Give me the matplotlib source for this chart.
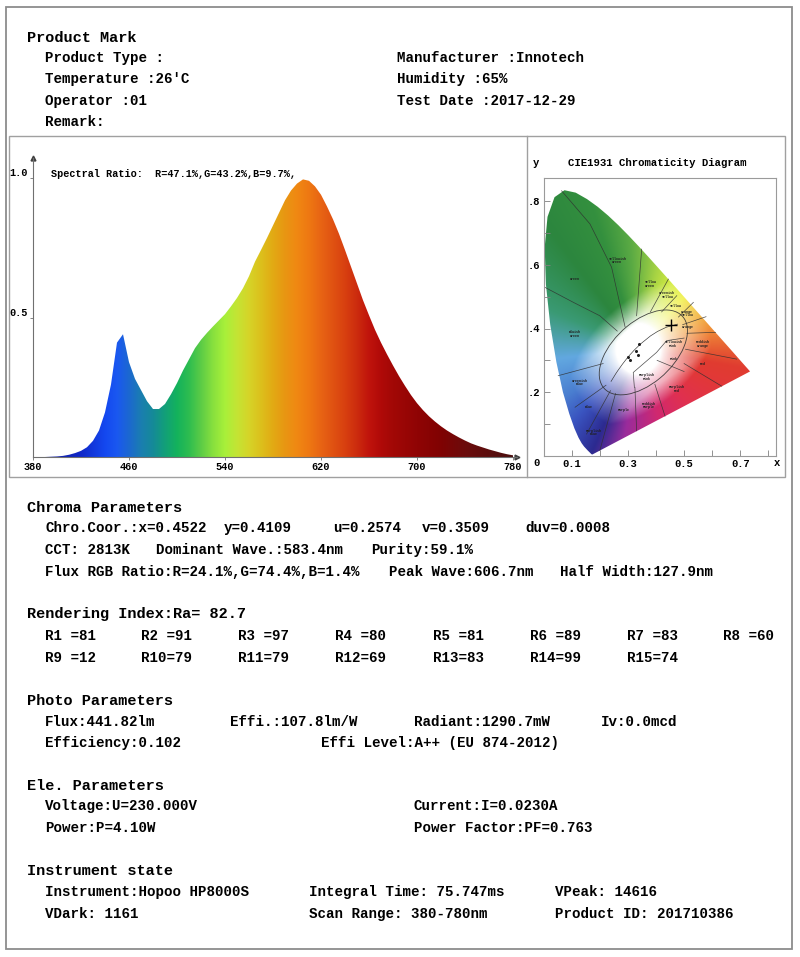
import numpy as np
import matplotlib
matplotlib.use("Agg")
import matplotlib.pyplot as plt
from matplotlib.colors import to_rgb
from matplotlib.patches import Polygon, Rectangle, Ellipse

plt.rcParams['font.family'] = ['Liberation Mono', 'DejaVu Sans Mono']
plt.rcParams['font.weight'] = 'bold'

W, H = 800, 957

# ---------------- spectrum data ----------------
wavelength = np.arange(380, 781, 5)
intensity = np.array([
    0.000, 0.000, 0.000, 0.001, 0.002, 0.004, 0.008, 0.014, 0.022, 0.035,
    0.058, 0.095, 0.160, 0.260, 0.410, 0.440, 0.340, 0.280, 0.240, 0.200,
    0.172, 0.172, 0.190, 0.225, 0.265, 0.310, 0.350, 0.390, 0.420, 0.445,
    0.468, 0.490, 0.512, 0.540, 0.570, 0.605, 0.648, 0.700, 0.742, 0.785,
    0.830, 0.875, 0.920, 0.955, 0.980, 0.995, 0.990, 0.970, 0.940, 0.898,
    0.852, 0.800, 0.742, 0.682, 0.622, 0.562, 0.508, 0.456, 0.410, 0.368,
    0.328, 0.290, 0.255, 0.222, 0.193, 0.168, 0.146, 0.127, 0.110, 0.095,
    0.082, 0.070, 0.059, 0.049, 0.041, 0.034, 0.027, 0.021, 0.015, 0.010,
    0.006])
spec_xticks = [380, 460, 540, 620, 700, 780]
spec_yticks = [0.5, 1.0]
spectral_ratio = "Spectral Ratio:  R=47.1%,G=43.2%,B=9.7%,"

# ---------------- CIE 1931 data ----------------
locus_x = [0.1741, 0.1733, 0.1714, 0.1689, 0.1644, 0.1566, 0.1440, 0.1355,
           0.1241, 0.1096, 0.0913, 0.0687, 0.0454, 0.0235, 0.0082, 0.0039,
           0.0139, 0.0389, 0.0743, 0.1142, 0.1547, 0.1929, 0.2296, 0.2658,
           0.3016, 0.3373, 0.3731, 0.4087, 0.4441, 0.4788, 0.5125, 0.5448,
           0.5752, 0.6029, 0.6270, 0.6658, 0.6915, 0.7079, 0.7190, 0.7260,
           0.7300, 0.7334, 0.7347]
locus_y = [0.0050, 0.0048, 0.0051, 0.0069, 0.0109, 0.0177, 0.0297, 0.0399,
           0.0578, 0.0868, 0.1327, 0.2007, 0.2950, 0.4127, 0.5384, 0.6548,
           0.7502, 0.8120, 0.8338, 0.8262, 0.8059, 0.7816, 0.7543, 0.7243,
           0.6923, 0.6589, 0.6245, 0.5896, 0.5547, 0.5202, 0.4866, 0.4544,
           0.4242, 0.3965, 0.3725, 0.3340, 0.3083, 0.2920, 0.2809, 0.2740,
           0.2700, 0.2666, 0.2653]
planck_x = [0.4770, 0.4369, 0.4053, 0.3805, 0.3451, 0.3221, 0.3064, 0.2952,
            0.2807, 0.2637, 0.2565, 0.2400]
planck_y = [0.4137, 0.4041, 0.3907, 0.3768, 0.3516, 0.3318, 0.3166, 0.3048,
            0.2883, 0.2673, 0.2577, 0.2340]
sample_x = [0.300, 0.309, 0.330, 0.337, 0.340]
sample_y = [0.310, 0.300, 0.330, 0.318, 0.350]
measured_x, measured_y = 0.4522, 0.4109
cie_xticks = [0.1, 0.3, 0.5, 0.7]
cie_yticks = [0.2, 0.4, 0.6, 0.8]

region_lines = [
    [(0.064, 0.832), (0.165, 0.728), (0.242, 0.592), (0.290, 0.405)],
    [(0.005, 0.529), (0.106, 0.482), (0.200, 0.440), (0.262, 0.392)],
    [(0.052, 0.252), (0.212, 0.290)],
    [(0.112, 0.153), (0.222, 0.222)],
    [(0.153, 0.069), (0.238, 0.205)],
    [(0.200, 0.017), (0.256, 0.196)],
    [(0.331, 0.079), (0.325, 0.215)],
    [(0.432, 0.125), (0.396, 0.225)],
    [(0.634, 0.219), (0.500, 0.290)],
    [(0.687, 0.304), (0.505, 0.335)],
    [(0.612, 0.388), (0.510, 0.385)],
    [(0.578, 0.437), (0.495, 0.412)],
    [(0.533, 0.482), (0.480, 0.436)],
    [(0.474, 0.503), (0.420, 0.452)],
    [(0.444, 0.555), (0.380, 0.452)],
    [(0.349, 0.649), (0.331, 0.440)],
    [(0.500, 0.370), (0.438, 0.362), (0.402, 0.325), (0.319, 0.262), (0.323, 0.215)],
    [(0.404, 0.300), (0.500, 0.265)],
]
region_labels = [
    ("Yellowish\nGreen", 0.260, 0.613), ("Green", 0.112, 0.555),
    ("Yellow\nGreen", 0.379, 0.540), ("Greenish\nYellow", 0.438, 0.506),
    ("Yellow", 0.468, 0.472), ("Orange\nYellow", 0.509, 0.447),
    ("Orange", 0.515, 0.404), ("Bluish\nGreen", 0.112, 0.383),
    ("Yellowish\nPink", 0.460, 0.352), ("Reddish\nOrange", 0.568, 0.351),
    ("Pink", 0.462, 0.304), ("Red", 0.568, 0.289),
    ("Purplish\nPink", 0.367, 0.247), ("Greenish\nBlue", 0.130, 0.231),
    ("Purplish\nRed", 0.474, 0.210), ("Blue", 0.159, 0.153),
    ("Purple", 0.284, 0.144), ("Reddish\nPurple", 0.373, 0.158),
    ("Purplish\nBlue", 0.177, 0.074),
]

# ---------------- report text ----------------
header_title = "Product Mark"
header_left = ["Product Type :", "Temperature :26'C", "Operator :01", "Remark:"]
header_right = ["Manufacturer :Innotech", "Humidity :65%", "Test Date :2017-12-29"]

chroma_title = "Chroma Parameters"
chroma_row1 = ["Chro.Coor.:x=0.4522", "y=0.4109", "u=0.2574", "v=0.3509", "duv=0.0008"]
chroma_row2 = ["CCT: 2813K", "Dominant Wave.:583.4nm", "Purity:59.1%"]
chroma_row3 = ["Flux RGB Ratio:R=24.1%,G=74.4%,B=1.4%", "Peak Wave:606.7nm", "Half Width:127.9nm"]

render_title = "Rendering Index:Ra= 82.7"
r_names = ["R1 ", "R2 ", "R3 ", "R4 ", "R5 ", "R6 ", "R7 ", "R8 ",
           "R9 ", "R10", "R11", "R12", "R13", "R14", "R15"]
r_values = [81, 91, 97, 80, 81, 89, 83, 60, 12, 79, 79, 69, 83, 99, 74]

photo_title = "Photo Parameters"
photo_row1 = ["Flux:441.82lm", "Effi.:107.8lm/W", "Radiant:1290.7mW", "Iv:0.0mcd"]
photo_row2 = ["Efficiency:0.102", "Effi Level:A++ (EU 874-2012)"]

ele_title = "Ele. Parameters"
ele_row1 = ["Voltage:U=230.000V", "Current:I=0.0230A"]
ele_row2 = ["Power:P=4.10W", "Power Factor:PF=0.763"]

inst_title = "Instrument state"
inst_row1 = ["Instrument:Hopoo HP8000S", "Integral Time: 75.747ms", "VPeak: 14616"]
inst_row2 = ["VDark: 1161", "Scan Range: 380-780nm", "Product ID: 201710386"]

# ---------------- figure ----------------
fig = plt.figure(figsize=(W / 100, H / 100), dpi=100, facecolor="white")

ov = fig.add_axes([0, 0, 1, 1])
ov.set_xlim(0, W)
ov.set_ylim(H, 0)
ov.axis("off")
ov.set_zorder(0)

frame_col = "#8c8c8c"
ov.add_patch(Rectangle((6, 7), 786, 942, fill=False, ec=frame_col, lw=1.3))
ov.add_patch(Rectangle((9, 136), 776, 341, fill=False, ec="#a0a0a0", lw=1.0))
ov.plot([527, 527], [136, 477], color="#a0a0a0", lw=1.0)

HS = 11.0   # heading size
BS = 10.2   # body size


def head(x, y, s):
    ov.text(x, y, s, fontsize=HS, va="center", ha="left", color="black")


def body(x, y, s):
    ov.text(x, y, s, fontsize=BS, va="center", ha="left", color="black")


head(27, 38, header_title)
for i, s in enumerate(header_left):
    body(45, 58 + i * 21.3, s)
for i, s in enumerate(header_right):
    body(397, 58 + i * 21.3, s)

head(27, 508, chroma_title)
for x, s in zip([45, 224, 333, 422, 525], chroma_row1):
    body(x, 528, s)
for x, s in zip([45, 156, 371], chroma_row2):
    body(x, 550, s)
for x, s in zip([45, 389, 560], chroma_row3):
    body(x, 572, s)

head(27, 614, render_title)
r_cols = [45, 141, 238, 335, 433, 530, 627, 723]
for i, (n, v) in enumerate(zip(r_names, r_values)):
    body(r_cols[i % 8], 636 + (i // 8) * 22, f"{n}={v}")

head(27, 701, photo_title)
for x, s in zip([45, 230, 414, 601], photo_row1):
    body(x, 722, s)
for x, s in zip([45, 321], photo_row2):
    body(x, 743, s)

head(27, 786, ele_title)
for x, s in zip([45, 414], ele_row1):
    body(x, 806, s)
for x, s in zip([45, 414], ele_row2):
    body(x, 828, s)

head(27, 871, inst_title)
for x, s in zip([45, 309, 555], inst_row1):
    body(x, 892, s)
for x, s in zip([45, 309, 555], inst_row2):
    body(x, 914, s)

# ---------------- spectrum plot ----------------
ax = fig.add_axes([33 / W, 1 - 457 / H, (517 - 33) / W, (457 - 158) / H])
ax.set_zorder(1)
ax.patch.set_alpha(0)
x_end = 380 + (517 - 33) / 1.2
y_end = (457 - 158) / 279
ax.set_xlim(380, x_end)
ax.set_ylim(0, y_end)

spec_colors = [(380, '#101890'), (420, '#1028c8'), (440, '#1448f0'), (450, '#1a58f0'),
               (460, '#1c68d0'), (470, '#1a7eb0'), (480, '#158a98'), (490, '#12a078'),
               (500, '#14b25c'), (510, '#2ebd50'), (520, '#5ccc46'), (530, '#88e03e'),
               (540, '#a8f03a'), (550, '#c4e434'), (560, '#d6d428'), (570, '#dcc01c'),
               (580, '#e2aa14'), (590, '#e89612'), (600, '#f08812'), (610, '#ee7812'),
               (620, '#e86414'), (630, '#e05212'), (640, '#d84010'), (650, '#cc2c0e'),
               (660, '#c0140c'), (670, '#b00a08'), (680, '#a20806'), (700, '#900404'),
               (720, '#800202'), (740, '#6c0c0c'), (780, '#4a0e0e')]
cw = np.array([c[0] for c in spec_colors])
crgb = np.array([to_rgb(c[1]) for c in spec_colors])
gw = np.linspace(380, 780, 801)
grad = np.stack([np.interp(gw, cw, crgb[:, k]) for k in range(3)], axis=-1)
im = ax.imshow(grad[None, :, :], extent=[380, 780, 0, 1.05], aspect="auto",
               origin="lower", interpolation="bilinear")
verts = np.column_stack([np.r_[wavelength, wavelength[::-1]],
                         np.r_[intensity, np.zeros_like(intensity)]])
clip = Polygon(verts, closed=True, fc="none", ec="none")
ax.add_patch(clip)
im.set_clip_path(clip)
ax.set_xlim(380, x_end)
ax.set_ylim(0, y_end)

for sp in ["top", "right"]:
    ax.spines[sp].set_visible(False)
for sp in ["left", "bottom"]:
    ax.spines[sp].set_color("#707070")
    ax.spines[sp].set_linewidth(0.8)
ax.plot([380], [y_end], marker="^", ms=3.5, color="#404040", clip_on=False)
ax.plot([x_end], [0], marker=">", ms=3.5, color="#404040", clip_on=False)

ax.set_xticks(spec_xticks)
ax.set_xticklabels([str(t) for t in spec_xticks], fontsize=7.4)
ax.set_yticks(spec_yticks)
ax.set_yticklabels(["0.5", "1.0"], fontsize=7.4)
for t in ax.get_yticklabels():
    t.set_va("bottom")
ax.tick_params(axis="both", length=2, width=0.6, color="#707070", pad=1.5)
ax.text(0.038, 0.946, spectral_ratio, transform=ax.transAxes, fontsize=7.3,
        va="center", ha="left")

# ---------------- CIE diagram ----------------
cx = fig.add_axes([543.6 / W, 1 - 456 / H, (776 - 543.6) / W, (456 - 178) / H])
cx.set_zorder(1)
cx.patch.set_alpha(0)
xr = (776 - 543.6) / 281
yr = (456 - 178) / 318.75
cx.set_xlim(0, xr)
cx.set_ylim(0, yr)

hue_anchors = [(-174, '#62a8e0'), (-150, '#4a7ed0'), (-135, '#3a54c0'),
               (-117, '#2c2a90'), (-100, '#9a2c9c'), (-72, '#d02870'),
               (-45, '#e03050'), (-20, '#e23838'), (-9, '#e03c30'),
               (14, '#f09038'), (30, '#f2c040'), (45, '#f0f040'),
               (60, '#d4ec40'), (75, '#a8d444'), (95, '#5aaa44'),
               (110, '#34903e'), (130, '#2c863e'), (159, '#3a9a74')]
ha = np.array([a[0] for a in hue_anchors], dtype=float)
hrgb = np.array([to_rgb(a[1]) for a in hue_anchors])
gx = np.linspace(0, xr, 420)
gy = np.linspace(0, yr, 440)
X, Y = np.meshgrid(gx, gy)
ang = np.degrees(np.arctan2(Y - 0.335, X - 0.335))
base = np.stack([np.interp(ang, ha, hrgb[:, k], period=360) for k in range(3)], axis=-1)
ex, ey, ea = 0.355, 0.325, np.radians(36)
along = (X - ex) * np.cos(ea) + (Y - ey) * np.sin(ea)
perp = -(X - ex) * np.sin(ea) + (Y - ey) * np.cos(ea)
r = np.sqrt((along / 0.18) ** 2 + (perp / 0.10) ** 2)
d = np.hypot(X - 0.335, Y - 0.335)
s = np.clip(np.maximum((r - 0.9) / 0.8, (d - 0.08) / 0.18), 0, 1) ** 0.8
field = 1 - s[..., None] * (1 - base)
cim = cx.imshow(field, extent=[0, xr, 0, yr], origin="lower", aspect="auto",
                interpolation="bilinear")
locus = Polygon(np.column_stack([locus_x, locus_y]), closed=True, fc="none",
                ec="none")
cx.add_patch(locus)
cim.set_clip_path(locus)

for line in region_lines:
    p = np.array(line)
    cx.plot(p[:, 0], p[:, 1], color="#303030", lw=0.5, alpha=0.85)
cx.add_patch(Ellipse((ex, ey), 0.36, 0.20, angle=36, fill=False, ec="#303030",
                     lw=0.6, alpha=0.9))
cx.plot(planck_x, planck_y, color="#303030", lw=0.45)
cx.plot(sample_x, sample_y, "o", ms=1.2, color="#202020", ls="none")
for lab, lx, ly in region_labels:
    cx.text(lx, ly, lab, fontsize=2.4, ha="center", va="center", color="#202020",
            linespacing=0.9)
cx.plot([measured_x], [measured_y], marker="+", ms=9, mew=1.0, color="black")

for sp in cx.spines.values():
    sp.set_color("#9a9a9a")
    sp.set_linewidth(0.8)
cx.set_xticks(cie_xticks)
cx.set_xticklabels(["0.1", "0.3", "0.5", "0.7"], fontsize=7.6)
cx.set_xticks([0.2, 0.4, 0.6, 0.8], minor=True)
cx.set_yticks(cie_yticks)
cx.set_yticklabels([".2", ".4", ".6", ".8"], fontsize=7.6)
cx.set_yticks([0.1, 0.3, 0.5, 0.7], minor=True)
cx.tick_params(which="both", direction="in", length=4, width=0.6,
               color="#808080", pad=2.5)

ov.text(536, 463, "0", fontsize=7.6, ha="center", va="center")
ov.text(777, 463, "x", fontsize=7.6, ha="center", va="center")
ov.text(536, 163, "y", fontsize=7.6, ha="center", va="center")
ov.text(657, 163, "CIE1931 Chromaticity Diagram", fontsize=7.7, ha="center",
        va="center")

fig.savefig("out.png", dpi=100, facecolor="white")
